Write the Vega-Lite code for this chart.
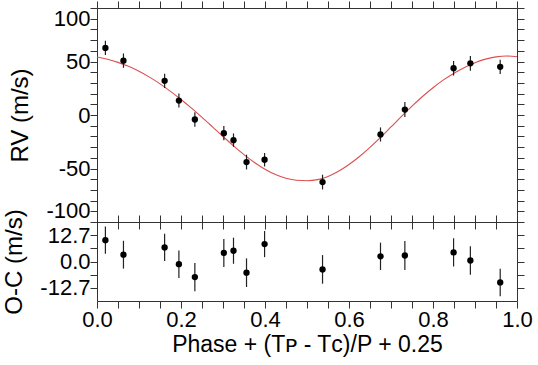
{
  "$schema": "https://vega.github.io/schema/vega-lite/v6.json",
  "padding": {"left": 2, "top": 0, "right": 3, "bottom": 5},
  "background": "white",
  "config": {
    "font": "Liberation Sans",
    "view": {"stroke": "#333333", "strokeWidth": 1},
    "concat": {"spacing": 0},
    "axis": {
      "labelFont": "Liberation Sans", "labelFontSize": 22, "labelColor": "black",
      "titleFont": "Liberation Sans", "titleFontSize": 24, "titleFontWeight": "normal", "titleColor": "black",
      "grid": false, "domain": false, "ticks": true, "tickColor": "#333333", "tickWidth": 1, "tickSize": 7,
      "labelOverlap": false, "labelFlush": false, "minExtent": 0, "offset": 0
    }
  },
  "datasets": {
    "obs": [
      {"phase": 0.020, "rv": 62.7, "oc": 10.3, "err": 6.6},
      {"phase": 0.063, "rv": 50.8, "oc": 3.3, "err": 6.7},
      {"phase": 0.161, "rv": 31.9, "oc": 6.8, "err": 6.6},
      {"phase": 0.195, "rv": 13.5, "oc": -1.3, "err": 6.6},
      {"phase": 0.233, "rv": -4.2, "oc": -7.5, "err": 6.8},
      {"phase": 0.302, "rv": -17.0, "oc": 4.1, "err": 6.7},
      {"phase": 0.325, "rv": -23.5, "oc": 5.2, "err": 6.3},
      {"phase": 0.356, "rv": -44.0, "oc": -5.4, "err": 6.9},
      {"phase": 0.399, "rv": -41.8, "oc": 8.4, "err": 6.3},
      {"phase": 0.537, "rv": -62.7, "oc": -3.8, "err": 6.9},
      {"phase": 0.675, "rv": -18.2, "oc": 2.5, "err": 6.6},
      {"phase": 0.733, "rv": 5.1, "oc": 2.9, "err": 7.0},
      {"phase": 0.849, "rv": 43.7, "oc": 4.4, "err": 6.8},
      {"phase": 0.889, "rv": 48.3, "oc": 0.5, "err": 6.9},
      {"phase": 0.960, "rv": 45.0, "oc": -10.1, "err": 6.6}
    ],
    "curve": [
      {"phase": 0.000, "model": 54.2}, {"phase": 0.025, "model": 52.1}, {"phase": 0.050, "model": 49.2},
      {"phase": 0.075, "model": 45.5}, {"phase": 0.100, "model": 40.9}, {"phase": 0.125, "model": 35.4},
      {"phase": 0.150, "model": 29.1}, {"phase": 0.175, "model": 22.1}, {"phase": 0.200, "model": 14.5},
      {"phase": 0.225, "model": 6.4}, {"phase": 0.250, "model": -2.2}, {"phase": 0.275, "model": -11.1},
      {"phase": 0.300, "model": -20.1}, {"phase": 0.325, "model": -28.8}, {"phase": 0.350, "model": -37.0},
      {"phase": 0.375, "model": -44.4}, {"phase": 0.400, "model": -50.7}, {"phase": 0.425, "model": -55.7},
      {"phase": 0.450, "model": -59.2}, {"phase": 0.475, "model": -61.0}, {"phase": 0.500, "model": -61.4},
      {"phase": 0.525, "model": -60.4}, {"phase": 0.550, "model": -57.4}, {"phase": 0.575, "model": -52.6},
      {"phase": 0.600, "model": -46.3}, {"phase": 0.625, "model": -38.8}, {"phase": 0.650, "model": -30.3},
      {"phase": 0.675, "model": -21.0}, {"phase": 0.700, "model": -11.2}, {"phase": 0.725, "model": -1.3},
      {"phase": 0.750, "model": 8.3}, {"phase": 0.775, "model": 17.3}, {"phase": 0.800, "model": 25.5},
      {"phase": 0.825, "model": 32.8}, {"phase": 0.850, "model": 39.1}, {"phase": 0.875, "model": 44.5},
      {"phase": 0.900, "model": 48.9}, {"phase": 0.925, "model": 52.2}, {"phase": 0.950, "model": 54.3},
      {"phase": 0.975, "model": 55.2}, {"phase": 1.000, "model": 54.4}
    ]
  },
  "spacing": 0,
  "bounds": "flush",
  "vconcat": [
    {
      "width": 420,
      "height": 214,
      "resolve": {"axis": {"x": "independent", "y": "independent"}},
      "layer": [
        {
          "data": {"name": "curve"},
          "mark": {"type": "line", "color": "#dc4f4f", "strokeWidth": 1.1, "interpolate": "monotone"},
          "encoding": {
            "x": {"field": "phase", "type": "quantitative", "scale": {"domain": [0, 1], "nice": false, "zero": false},
              "axis": {"orient": "bottom", "labels": false, "title": null,
                "values": [0,0.05,0.1,0.15,0.2,0.25,0.3,0.35,0.4,0.45,0.5,0.55,0.6,0.65,0.7,0.75,0.8,0.85,0.9,0.95,1],
                "encode": {"ticks": {"update": {"y2": {"signal": "abs(datum.value*5-round(datum.value*5))<1e-6 ? -7 : -3.5"}}}}}},
            "y": {"field": "model", "type": "quantitative", "scale": {"domain": [-100, 100], "nice": false, "zero": false},
              "axis": {"orient": "left", "title": "RV (m/s)", "labelPadding": 0, "titlePadding": 13, "labelFlush": true,
                "values": [-100,-90,-80,-70,-60,-50,-40,-30,-20,-10,0,10,20,30,40,50,60,70,80,90,100],
                "labelExpr": "datum.value % 50 == 0 ? '' + datum.value : ''",
                "encode": {"ticks": {"update": {"x2": {"signal": "datum.value % 50 == 0 ? 7 : 3.5"}}}}}}
          }
        },
        {
          "data": {"name": "obs"},
          "mark": {"type": "errorbar", "color": "#222222", "thickness": 1.2},
          "encoding": {
            "x": {"field": "phase", "type": "quantitative", "scale": {"domain": [0, 1], "nice": false, "zero": false}, "axis": null},
            "y": {"field": "rv", "type": "quantitative", "scale": {"domain": [-100, 100], "nice": false, "zero": false}, "axis": null},
            "yError": {"field": "err"}
          }
        },
        {
          "data": {"name": "obs"},
          "mark": {"type": "circle", "color": "black", "size": 40, "opacity": 1},
          "encoding": {
            "x": {"field": "phase", "type": "quantitative", "scale": {"domain": [0, 1], "nice": false, "zero": false},
              "axis": {"orient": "top", "labels": false, "title": null,
                "values": [0,0.05,0.1,0.15,0.2,0.25,0.3,0.35,0.4,0.45,0.5,0.55,0.6,0.65,0.7,0.75,0.8,0.85,0.9,0.95,1],
                "encode": {"ticks": {"update": {"y2": {"signal": "abs(datum.value*5-round(datum.value*5))<1e-6 ? 7 : 3.5"}}}}}},
            "y": {"field": "rv", "type": "quantitative", "scale": {"domain": [-100, 100], "nice": false, "zero": false},
              "axis": {"orient": "right", "labels": false, "title": null,
                "values": [-100,-90,-80,-70,-60,-50,-40,-30,-20,-10,0,10,20,30,40,50,60,70,80,90,100],
                "encode": {"ticks": {"update": {"x2": {"signal": "datum.value % 50 == 0 ? -7 : -3.5"}}}}}}
          }
        }
      ]
    },
    {
      "width": 420,
      "height": 79,
      "resolve": {"axis": {"x": "independent", "y": "independent"}},
      "layer": [
        {
          "mark": {"type": "rule", "color": "#f08a8a", "strokeWidth": 1.5, "strokeDash": [11, 9]},
          "encoding": {
            "y": {"datum": 0, "type": "quantitative", "scale": {"domain": [-19.05, 19.05], "nice": false, "zero": false}, "axis": null}
          }
        },
        {
          "data": {"name": "obs"},
          "mark": {"type": "errorbar", "color": "#222222", "thickness": 1.2},
          "encoding": {
            "x": {"field": "phase", "type": "quantitative", "scale": {"domain": [0, 1], "nice": false, "zero": false},
              "axis": {"orient": "top", "labels": false, "title": null,
                "values": [0,0.05,0.1,0.15,0.2,0.25,0.3,0.35,0.4,0.45,0.5,0.55,0.6,0.65,0.7,0.75,0.8,0.85,0.9,0.95,1],
                "encode": {"ticks": {"update": {"y2": {"signal": "abs(datum.value*5-round(datum.value*5))<1e-6 ? 7 : 3.5"}}}}}},
            "y": {"field": "oc", "type": "quantitative", "scale": {"domain": [-19.05, 19.05], "nice": false, "zero": false},
              "axis": {"orient": "right", "labels": false, "title": null,
                "values": [-12.7, -6.35, 0, 6.35, 12.7],
                "encode": {"ticks": {"update": {"x2": {"signal": "abs(abs(datum.value)-6.35)<0.01 ? -3.5 : -7"}}}}}},
            "yError": {"field": "err"}
          }
        },
        {
          "data": {"name": "obs"},
          "mark": {"type": "circle", "color": "black", "size": 40, "opacity": 1},
          "encoding": {
            "x": {"field": "phase", "type": "quantitative", "scale": {"domain": [0, 1], "nice": false, "zero": false},
              "axis": {"orient": "bottom", "title": "Phase + (Tᴘ - Tᴄ)/P + 0.25", "titleFontSize": 23, "labelPadding": 1, "titlePadding": 3,
                "values": [0,0.05,0.1,0.15,0.2,0.25,0.3,0.35,0.4,0.45,0.5,0.55,0.6,0.65,0.7,0.75,0.8,0.85,0.9,0.95,1],
                "labelExpr": "abs(datum.value*5-round(datum.value*5))<1e-6 ? format(datum.value, '.1f') : ''",
                "encode": {"ticks": {"update": {"y2": {"signal": "abs(datum.value*5-round(datum.value*5))<1e-6 ? -7 : -3.5"}}}}}},
            "y": {"field": "oc", "type": "quantitative", "scale": {"domain": [-19.05, 19.05], "nice": false, "zero": false},
              "axis": {"orient": "left", "title": "O-C (m/s)", "labelPadding": 0, "titlePadding": 13,
                "values": [-12.7, -6.35, 0, 6.35, 12.7],
                "labelExpr": "datum.value == 0 ? '0.0' : (abs(abs(datum.value)-12.7)<0.01 ? '' + datum.value : '')",
                "encode": {"ticks": {"update": {"x2": {"signal": "abs(abs(datum.value)-6.35)<0.01 ? 3.5 : 7"}}}}}}
          }
        }
      ]
    }
  ]
}
